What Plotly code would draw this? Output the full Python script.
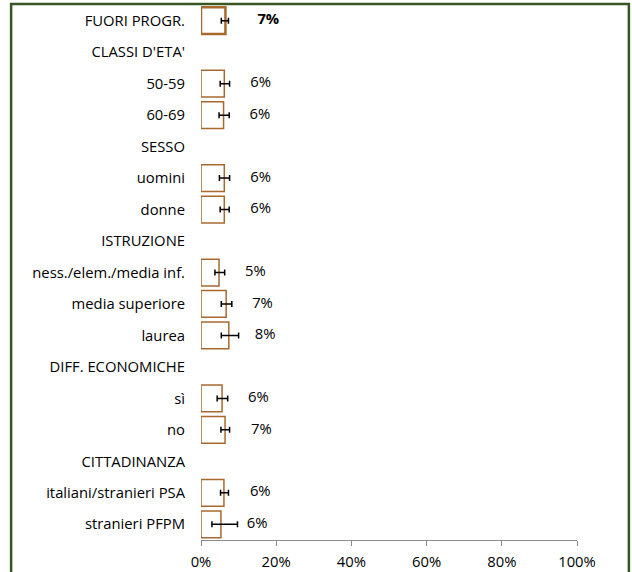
import plotly.graph_objects as go

# rows top to bottom; section headers have no value
categories = [
    "FUORI PROGR.", "CLASSI D'ETA'", "50-59", "60-69",
    "SESSO", "uomini", "donne",
    "ISTRUZIONE", "ness./elem./media inf.", "media superiore", "laurea",
    "DIFF. ECONOMICHE", "sì", "no",
    "CITTADINANZA", "italiani/stranieri PSA", "stranieri PFPM",
]
values = [6.5, None, 6.2, 6.0, None, 6.2, 6.2, None, 4.8, 6.7, 7.4, None, 5.6, 6.4, None, 6.1, 5.3]
ci_low = [5.4, None, 5.1, 4.8, None, 4.9, 5.1, None, 3.7, 5.4, 5.4, None, 4.3, 5.3, None, 5.2, 2.9]
ci_high = [7.3, None, 7.6, 7.5, None, 7.6, 7.5, None, 6.3, 8.2, 10.0, None, 7.1, 7.6, None, 7.3, 9.7]
labels = ["<b>7%</b>", "", "6%", "6%", "", "6%", "6%", "", "5%", "7%", "8%", "", "6%", "7%", "", "6%", "6%"]
x_ticks = [0, 20, 40, 60, 80, 100]

FONT = "'Open Sans', sans-serif"
FS = 14.8
BROWN = "#A8692F"
GREEN = "#375623"

err_plus = [h - v if v is not None else None for v, h in zip(values, ci_high)]
err_minus = [v - l if v is not None else None for v, l in zip(values, ci_low)]
line_w = [2.5 if c == "FUORI PROGR." else 1.5 for c in categories]
label_x = [v + (8.5 if c == "FUORI PROGR." else 6.9) if v is not None else None
           for c, v in zip(categories, values)]

fig = go.Figure()
fig.add_trace(go.Bar(
    y=categories, x=values, orientation="h",
    marker=dict(color="white", line=dict(color=BROWN, width=line_w)),
    error_x=dict(type="data", symmetric=False, array=err_plus, arrayminus=err_minus,
                 color="black", thickness=1.5, width=3),
    hoverinfo="skip",
))
fig.add_trace(go.Scatter(
    y=categories, x=label_x, mode="text", text=labels,
    textposition="middle right", textfont=dict(size=FS, color="black", family=FONT),
    hoverinfo="skip",
))

# green frame around the chart
fig.add_shape(type="rect", xref="paper", yref="paper",
              x0=-0.505, x1=1.138, y0=-0.08, y1=1.002,
              line=dict(color=GREEN, width=2.5), layer="above")

fig.update_layout(
    width=632, height=572,
    margin=dict(l=201, r=55, t=5, b=32),
    paper_bgcolor="white", plot_bgcolor="white",
    showlegend=False, bargap=0.15,
    font=dict(family=FONT, size=FS, color="black"),
)
fig.update_yaxes(
    range=[len(categories) - 0.5, -0.5], showgrid=False, showline=False, ticks="",
    ticklabelstandoff=15, tickfont=dict(size=FS), automargin=False,
)
fig.update_xaxes(
    range=[0, 100], tickvals=x_ticks, ticktext=[f"{t}%" for t in x_ticks],
    showgrid=False, zeroline=False, showline=True, linecolor="#8C8C8C", linewidth=1,
    ticks="outside", tickcolor="#8C8C8C", ticklen=5, tickfont=dict(size=FS),
    ticklabelstandoff=3, automargin=False,
)

fig.write_html("out.html", config={"displayModeBar": False},
               post_script="document.body.style.margin='0';")
